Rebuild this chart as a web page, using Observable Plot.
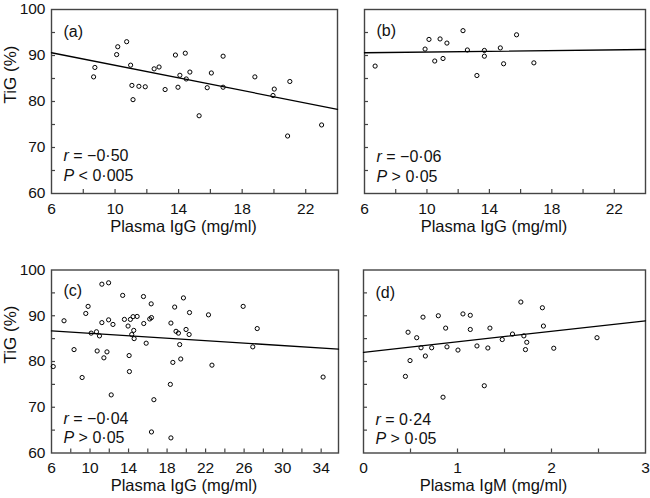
<!DOCTYPE html>
<html><head><meta charset="utf-8">
<script src="https://cdn.jsdelivr.net/npm/d3@7"></script>
<script src="https://cdn.jsdelivr.net/npm/@observablehq/plot@0.6"></script>
<style>
body{margin:0;background:#fff;}
#chart{position:relative;width:650px;height:498px;background:#fff;overflow:hidden;}
#chart svg{position:absolute;overflow:visible;}
</style></head><body><div id="chart"></div>
<script>
// Panel (a): Plasma IgG vs TiG
const aX = [8.65, 8.73, 10.1, 10.17, 10.73, 10.98, 11.06, 11.13, 11.5, 11.9, 12.46, 12.77, 13.15, 13.8, 13.96, 14.08, 14.42, 14.48, 14.71, 15.29, 15.8, 16.06, 16.8, 16.8, 18.8, 19.94, 20.02, 21.0, 20.86, 23.0];
const aY = [85.35, 87.4, 90.2, 91.9, 93.0, 87.9, 83.5, 80.4, 83.3, 83.2, 87.1, 87.5, 82.6, 90.1, 83.1, 85.7, 90.5, 84.9, 86.4, 76.9, 83.0, 86.2, 89.85, 83.1, 85.35, 81.3, 82.7, 84.35, 72.5, 74.9];
// Panel (b)
const bX = [6.68, 9.88, 10.13, 10.5, 10.84, 11.03, 11.28, 12.31, 12.59, 13.2, 13.68, 13.68, 14.7, 14.91, 15.74, 16.85];
const bY = [87.7, 91.4, 93.5, 88.8, 93.6, 89.35, 92.7, 95.4, 91.2, 85.65, 91.1, 89.85, 91.65, 88.2, 94.5, 88.4];
// Panel (c)
const cX = [6.18, 7.3, 8.34, 9.18, 9.56, 9.8, 10.12, 10.67, 10.74, 10.98, 11.23, 11.23, 11.44, 11.76, 11.93, 11.93, 12.2, 12.38, 13.39, 13.57, 13.95, 14.06, 14.09, 14.19, 14.33, 14.47, 14.54, 14.58, 14.89, 15.55, 15.58, 15.83, 16.2, 16.35, 16.38, 16.38, 16.63, 18.34, 18.4, 18.4, 18.6, 18.79, 18.93, 19.18, 19.31, 19.42, 19.7, 19.97, 20.33, 20.29, 22.3, 22.66, 25.9, 26.9, 27.36, 34.2];
const cY = [78.9, 88.9, 82.6, 76.5, 90.5, 92.05, 86.2, 86.5, 82.3, 85.6, 96.9, 88.5, 80.8, 82.1, 97.2, 89.1, 72.7, 88.1, 94.45, 89.2, 87.75, 81.3, 77.8, 89.2, 85.9, 89.8, 86.8, 85.0, 89.85, 94.2, 88.3, 84.0, 89.3, 92.6, 89.6, 64.6, 71.65, 75.0, 88.4, 63.3, 79.8, 91.9, 86.6, 86.2, 83.7, 80.55, 93.9, 87.0, 90.7, 85.9, 90.2, 79.2, 92.05, 83.2, 87.2, 76.6];
// Panel (d): Plasma IgM
const dX = [0.446, 0.474, 0.495, 0.566, 0.612, 0.633, 0.658, 0.725, 0.796, 0.846, 0.874, 0.888, 1.005, 1.058, 1.136, 1.136, 1.207, 1.285, 1.323, 1.345, 1.476, 1.585, 1.674, 1.706, 1.723, 1.737, 1.903, 1.914, 2.024, 2.484];
const dY = [76.75, 86.4, 80.2, 85.2, 83.0, 89.7, 81.2, 83.0, 90.0, 72.2, 87.3, 83.2, 82.5, 90.4, 90.1, 87.0, 83.4, 74.7, 82.95, 87.3, 84.8, 86.0, 93.0, 85.6, 82.6, 84.2, 91.75, 87.75, 82.9, 85.2];
// Fitted regression lines (end points)
const fitAX = [6, 24], fitAY = [90.6, 78.3];
const fitBX = [6, 24], fitBY = [90.6, 91.3];
const fitCX = [6, 35.8], fitCY = [86.7, 82.7];
const fitDX = [0, 3], fitDY = [82.0, 88.9];
// Labels and ticks
const panelLetters = ["(a)", "(b)", "(c)", "(d)"];
const rValues = ["−0·50", "−0·06", "−0·04", "0·24"];
const pValues = ["< 0·005", "> 0·05", "> 0·05", "> 0·05"];
const xTitles = ["Plasma IgG (mg/ml)", "Plasma IgG (mg/ml)", "Plasma IgG (mg/ml)", "Plasma IgM (mg/ml)"];
const yTitle = "TiG (%)";
const yTickLabels = [60, 70, 80, 90, 100];
const yMinorTicks = [65, 70, 75, 80, 85, 90, 95];
const igg24Labels = [6, 10, 14, 18, 22];
const igg24Ticks = [8, 10, 12, 14, 16, 18, 20, 22];
const igg36Labels = [6, 10, 14, 18, 22, 26, 30, 34];
const igg36Ticks = [8, 10, 12, 14, 16, 18, 20, 22, 24, 26, 28, 30, 32, 34];
const igmLabels = [0, 1, 2, 3];
const igmTicks = [0.5, 1, 1.5, 2, 2.5];

const FONT = '"Liberation Sans", Arial, Helvetica, sans-serif';
const FRAME = "#444";

function zip(xs, ys) { return xs.map((x, i) => ({x, y: ys[i]})); }

function panel(o) {
  const marks = [
    Plot.axisX(o.xTicks, {tickSize: -4, tickFormat: () => "", stroke: FRAME, strokeWidth: 1.2}),
    Plot.axisX(o.xLabels, {tickSize: 0, tickPadding: 9, fontSize: 15.5, fill: "#111"}),
    Plot.axisY(yMinorTicks, {tickSize: -4, tickFormat: () => "", stroke: FRAME, strokeWidth: 1.2}),
    Plot.frame({stroke: FRAME, strokeWidth: 1.4}),
    Plot.line(zip(o.fitX, o.fitY), {x: "x", y: "y", stroke: "#000", strokeWidth: 1.3}),
    Plot.dot(zip(o.xs, o.ys), {x: "x", y: "y", r: 2.1, stroke: "#000", strokeWidth: 1, fill: "none"}),
    Plot.text([o.letter], {text: d => d, frameAnchor: "top-left", dx: 12, dy: o.letterDy, textAnchor: "start", lineAnchor: "middle", fontSize: 16, fill: "#111"}),
    Plot.text(["r = " + o.r], {text: d => d, frameAnchor: "bottom-left", dx: 12, dy: o.rDy, textAnchor: "start", lineAnchor: "middle", fontSize: 16, fill: "#111"}),
    Plot.text(["P " + o.p], {text: d => d, frameAnchor: "bottom-left", dx: 12, dy: o.pDy, textAnchor: "start", lineAnchor: "middle", fontSize: 16, fill: "#111"}),
    Plot.text([o.xTitle], {text: d => d, frameAnchor: "bottom", dx: -11, dy: 33, lineAnchor: "middle", fontSize: 16.5, fill: "#111"})
  ];
  if (o.showY) {
    marks.push(Plot.axisY(yTickLabels, {tickSize: 0, tickPadding: 6, fontSize: 15.5, fill: "#111"}));
    marks.push(Plot.text([yTitle], {text: d => d, frameAnchor: "left", dx: -41, dy: 2, rotate: -90, lineAnchor: "middle", fontSize: 17, fill: "#111"}));
  }
  const svg = Plot.plot({
    width: o.width, height: o.height,
    marginLeft: o.ml, marginRight: o.mr, marginTop: o.mt, marginBottom: o.mb,
    x: {domain: o.xDomain, label: null},
    y: {domain: [60, 100], label: null},
    style: {fontFamily: FONT, fontSize: "15px", background: "transparent", overflow: "visible"},
    marks
  });
  d3.select(svg).selectAll("text").filter(function () { return /^(r|P) [=<>]/.test(this.textContent); })
    .each(function () {
      const t = this.textContent;
      const sel = d3.select(this);
      sel.text(null);
      sel.append("tspan").attr("font-style", "italic").text(t[0]);
      sel.append("tspan").text(t.slice(1));
    });
  svg.style.left = o.left + "px";
  svg.style.top = o.top + "px";
  document.getElementById("chart").appendChild(svg);
}

panel({xs: aX, ys: aY, fitX: fitAX, fitY: fitAY, xDomain: [6, 24], xTicks: igg24Ticks, xLabels: igg24Labels,
  letter: panelLetters[0], r: rValues[0], p: pValues[0], xTitle: xTitles[0], showY: true,
  left: 0, top: 0, width: 345, height: 240, ml: 51, mr: 8, mt: 9, mb: 47, letterDy: 22, rDy: -38, pDy: -18});
panel({xs: bX, ys: bY, fitX: fitBX, fitY: fitBY, xDomain: [6, 24], xTicks: igg24Ticks, xLabels: igg24Labels,
  letter: panelLetters[1], r: rValues[1], p: pValues[1], xTitle: xTitles[1], showY: false,
  left: 345, top: 0, width: 305, height: 240, ml: 19, mr: 5, mt: 9, mb: 47, letterDy: 21, rDy: -37, pDy: -17});
panel({xs: cX, ys: cY, fitX: fitCX, fitY: fitCY, xDomain: [6, 35.8], xTicks: igg36Ticks, xLabels: igg36Labels,
  letter: panelLetters[2], r: rValues[2], p: pValues[2], xTitle: xTitles[2], showY: true,
  left: 0, top: 240, width: 345, height: 258, ml: 51, mr: 7, mt: 29.5, mb: 45.5, letterDy: 21, rDy: -34, pDy: -15});
panel({xs: dX, ys: dY, fitX: fitDX, fitY: fitDY, xDomain: [0, 3], xTicks: igmTicks, xLabels: igmLabels,
  letter: panelLetters[3], r: rValues[3], p: pValues[3], xTitle: xTitles[3], showY: false,
  left: 345, top: 240, width: 305, height: 258, ml: 18, mr: 5, mt: 29.5, mb: 45.5, letterDy: 23, rDy: -33, pDy: -14});
</script>
</body></html>
